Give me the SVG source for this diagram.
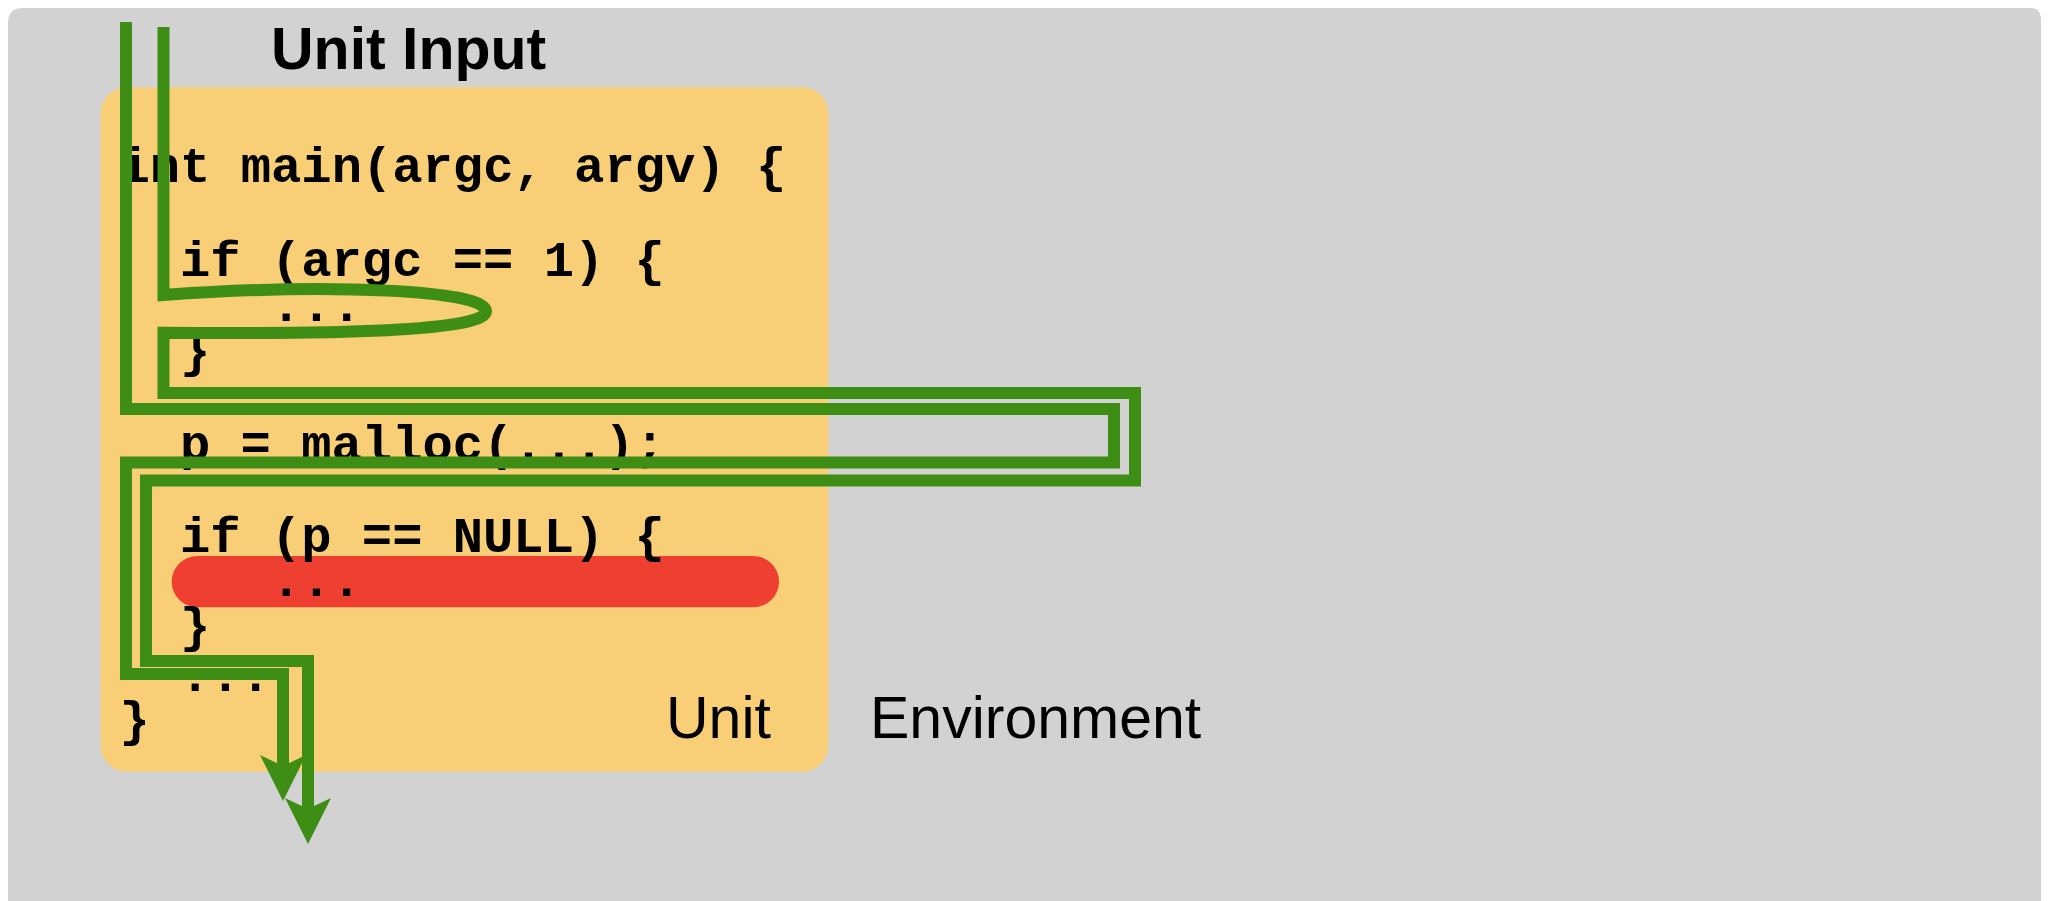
<svg xmlns="http://www.w3.org/2000/svg" width="2049" height="901" viewBox="0 0 2049 901">
  <style>
    .code { font-family: "Liberation Mono", "Courier New", monospace; font-weight: bold; font-size: 50.5px; fill: #000; }
    .label { font-family: "Liberation Sans", Arial, sans-serif; font-size: 59px; fill: #000; }
    .flow { fill: none; stroke: #3e8e15; stroke-width: 12; stroke-linejoin: miter; stroke-linecap: butt; }
  </style>
  <defs>
    <marker id="arrow" markerUnits="userSpaceOnUse" viewBox="0 0 46 46" markerWidth="46" markerHeight="46" refX="14" refY="23" orient="auto">
      <path d="M0,0 L46,23 L0,46 L11,23 Z" fill="#3e8e15"/>
    </marker>
  </defs>
  <rect x="0" y="0" width="2049" height="901" fill="#ffffff"/>
  <g id="environment">
    <path d="M8,23 Q8,8 23,8 H2030 Q2041,8 2041,19 V901 H8 Z" fill="#d2d2d2"/>
    <text class="label" x="870" y="738">Environment</text>
  </g>
  <g id="unit">
    <rect x="100.7" y="87.3" width="727.6" height="684.4" rx="26" ry="26" fill="#f8cf77"/>
    <rect id="error-path" x="171.7" y="556" width="607.3" height="51.3" rx="25.6" ry="25.6" fill="#ee3f30"/>
    <text class="code" x="119.5" y="182">int main(argc, argv) {</text>
    <text class="code" x="180" y="276">if (argc == 1) {</text>
    <text class="code" x="271" y="321">...</text>
    <text class="code" x="180" y="367">}</text>
    <text class="code" x="180" y="460">p = malloc(...);</text>
    <text class="code" x="180" y="552">if (p == NULL) {</text>
    <text class="code" x="271" y="596">...</text>
    <text class="code" x="180" y="642">}</text>
    <text class="code" x="180" y="691">...</text>
    <text class="code" x="119.5" y="736">}</text>
    <text class="label" x="666" y="738">Unit</text>
  </g>
  <g id="unit-input">
    <text class="label" x="271" y="69" font-weight="bold">Unit Input</text>
  </g>
  <g id="connectors">
    <path class="flow" marker-end="url(#arrow)" d="M126,22 V409 H1114 V462.5 H126 V674 H283 V769"/>
    <path class="flow" marker-end="url(#arrow)" d="M163.5,27 V295 C330,283 486,290 486,311 C486,332 330,334 163.5,332.7 V393 H1135 V480.5 H146 V661 H308 V812"/>
  </g>
</svg>
